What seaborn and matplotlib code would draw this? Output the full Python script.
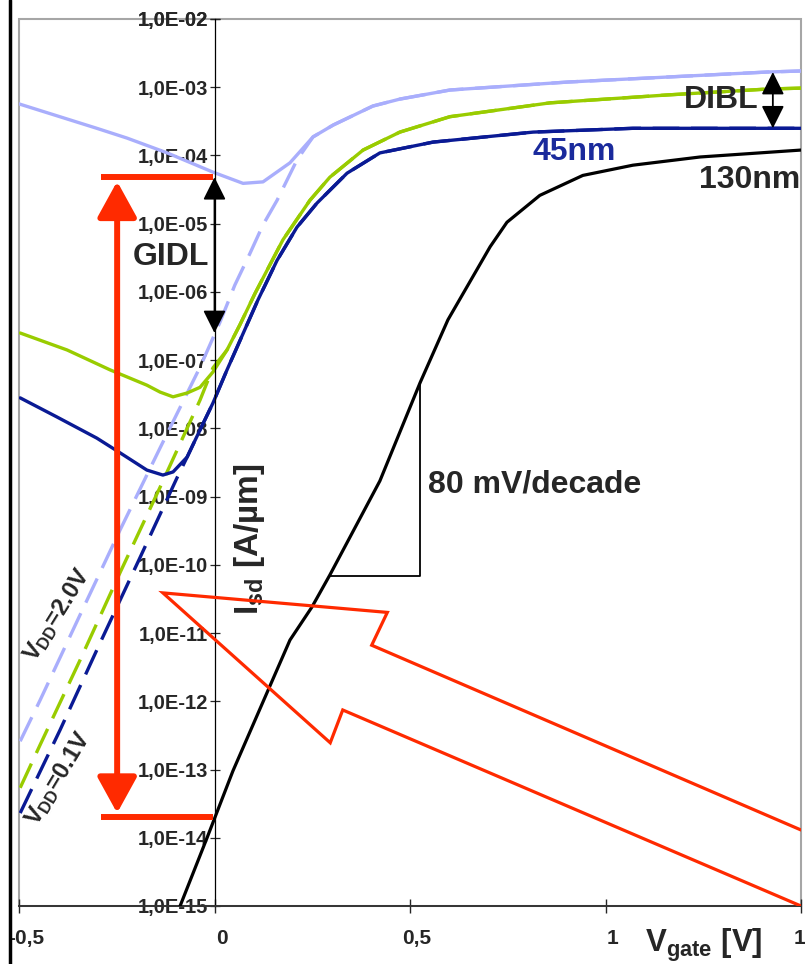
import numpy as np
import pandas as pd
import matplotlib
matplotlib.use("Agg")
import matplotlib.pyplot as plt
import matplotlib.transforms as mtransforms
from matplotlib.patches import Rectangle
from matplotlib.lines import Line2D
from matplotlib.ticker import FixedLocator, NullLocator
import seaborn as sns

# ==============================
# Data
# ==============================

# 130nm device
vg_130 = [-0.088, -0.019, 0.047, 0.124, 0.193, 0.249, 0.295, 0.423, 0.526, 0.597,
          0.705, 0.748, 0.832, 0.942, 1.070, 1.242, 1.500]
isd_130 = [1.0e-15, 1.0e-14, 9.5e-14, 9.8e-13, 7.9e-12, 2.4e-11, 7.1e-11, 1.7e-9,
           4.7e-8, 3.9e-7, 4.6e-6, 1.05e-5, 2.6e-5, 5.1e-5, 7.2e-5, 9.5e-5, 1.2e-4]

# 45nm, highest VDD (lavender), solid = measured with GIDL
vg_lav = [-0.500, -0.301, -0.224, -0.121, -0.004, 0.073, 0.124, 0.193, 0.252, 0.304,
          0.405, 0.474, 0.602, 0.902, 1.413, 1.500]
isd_lav = [5.7e-4, 2.5e-4, 1.8e-4, 1.09e-4, 5.7e-5, 3.9e-5, 4.1e-5, 7.8e-5, 1.87e-4,
           2.8e-4, 5.3e-4, 6.7e-4, 9.1e-4, 1.19e-3, 1.67e-3, 1.73e-3]
# dashed: extrapolated subthreshold part (joins the solid curve above)
vg_lav_d = [-0.497, -0.446, -0.344, -0.242, -0.139, -0.037, 0.014, 0.052, 0.091,
            0.124, 0.160, 0.211]
isd_lav_d = [2.6e-13, 1.04e-12, 1.84e-11, 3.2e-10, 5.2e-9, 7.9e-8, 3.6e-7, 1.26e-6,
             3.7e-6, 9.6e-6, 2.2e-5, 8.6e-5]

# 45nm, middle VDD (green)
vg_grn = [-0.497, -0.377, -0.267, -0.173, -0.139, -0.106, -0.070, -0.037, -0.004,
          0.032, 0.065, 0.104, 0.175, 0.244, 0.295, 0.380, 0.474, 0.602, 0.858,
          1.157, 1.413, 1.500]
isd_grn = [2.5e-7, 1.41e-7, 7.2e-8, 4.3e-8, 3.4e-8, 2.9e-8, 3.3e-8, 4.0e-8, 6.7e-8,
           1.41e-7, 3.3e-7, 9.6e-7, 5.8e-6, 2.2e-5, 4.8e-5, 1.2e-4, 2.2e-4, 3.7e-4,
           5.9e-4, 7.7e-4, 9.4e-4, 9.7e-4]
vg_grn_d = [-0.497, -0.446, -0.344, -0.242, -0.139, -0.037, -0.004]
isd_grn_d = [5.4e-14, 2.3e-13, 4.0e-12, 7.6e-11, 1.38e-9, 2.6e-8, 7.7e-8]

# 45nm, VDD = 0.1V (dark blue)
vg_blu = [-0.497, -0.403, -0.301, -0.242, -0.173, -0.132, -0.106, -0.070, -0.037,
          -0.004, 0.032, 0.111, 0.160, 0.211, 0.262, 0.339, 0.423, 0.559, 0.815,
          1.070, 1.500]
isd_blu = [2.8e-8, 1.47e-8, 7.2e-9, 4.4e-9, 2.45e-9, 2.07e-9, 2.3e-9, 3.8e-9, 9.5e-9,
           2.35e-8, 7.2e-8, 7.6e-7, 2.9e-6, 8.9e-6, 2.0e-5, 5.5e-5, 1.09e-4, 1.57e-4,
           2.2e-4, 2.5e-4, 2.5e-4]
vg_blu_d = [-0.497, -0.395, -0.293, -0.191, -0.096, -0.070]
isd_blu_d = [2.3e-14, 3.8e-13, 7.1e-12, 1.26e-10, 1.88e-9, 3.8e-9]

ytick_vals = [10.0 ** e for e in range(-15, -1)]
ytick_labels = ["1,0E-%02d" % -e for e in range(-15, -1)]
xtick_vals = [-0.5, 0, 0.5, 1, 1.5]
xtick_labels = ["-0,5", "0", "0,5", "1", "1,5"]

# annotation levels
gidl_top, gidl_bottom = 4.8e-5, 2.5e-7
red_top, red_bottom = 4.8e-5, 2.0e-14
dibl_x, dibl_top, dibl_bottom = 1.428, 1.67e-3, 2.5e-4
slope_x0, slope_x1 = 0.295, 0.526
slope_y0, slope_y1 = 6.9e-11, 4.6e-8

LAV = "#a9aefc"
GRN = "#99cc00"
NAVY = "#0a1a94"
RED = "#ff2a00"

# ==============================
# Style
# ==============================
sns.set_style("white")
plt.rcParams["font.family"] = ["Liberation Sans", "DejaVu Sans"]
plt.rcParams["font.weight"] = "bold"
plt.rcParams["mathtext.fontset"] = "custom"
plt.rcParams["mathtext.rm"] = "Liberation Sans"
plt.rcParams["mathtext.bf"] = "Liberation Sans:bold"
plt.rcParams["mathtext.it"] = "Liberation Sans:italic"

fig = plt.figure(figsize=(8.05, 9.64), dpi=100)
ax = fig.add_axes([19 / 805, 58 / 964, 782 / 805, 887 / 964])

# ==============================
# Curves
# ==============================
lw = 2.4
dash = (0, (8, 3.5))

def full_dashed(vd, idd, vs, iss):
    # dashed low part + the solid curve above the merge point
    v = list(vd) + [a for a in vs if a > vd[-1]]
    i = list(idd) + [b for a, b in zip(vs, iss) if a > vd[-1]]
    return v, i

for vs, iss, vd, idd, col in [(vg_lav, isd_lav, vg_lav_d, isd_lav_d, LAV),
                              (vg_grn, isd_grn, vg_grn_d, isd_grn_d, GRN),
                              (vg_blu, isd_blu, vg_blu_d, isd_blu_d, NAVY)]:
    sns.lineplot(x=vs, y=iss, ax=ax, color=col, lw=lw, estimator=None)
    v2, i2 = full_dashed(vd, idd, vs, iss)
    sns.lineplot(x=v2, y=i2, ax=ax, color=col, lw=lw, linestyle=dash, estimator=None)

sns.lineplot(x=vg_130, y=isd_130, ax=ax, color="black", lw=2.3, estimator=None, zorder=3)

# ==============================
# Axes
# ==============================
ax.set_yscale("log")
ax.set_xlim(-0.5, 1.5)
ax.set_ylim(1e-15, 1e-2)
ax.yaxis.set_major_locator(FixedLocator(ytick_vals + [1e-2]))
ax.set_yticklabels(ytick_labels + ["1,0E-02"])
ax.yaxis.set_minor_locator(NullLocator())
ax.set_xticks(xtick_vals)
ax.set_xticklabels(xtick_labels)
ax.set_xlabel("")
ax.set_ylabel("")

for s in ["top", "right"]:
    ax.spines[s].set_visible(False)
ax.spines["left"].set_position(("data", 0))
ax.spines["left"].set_color("black")
ax.spines["left"].set_linewidth(0.9)
ax.spines["bottom"].set_color("#333333")
ax.spines["bottom"].set_linewidth(1.4)
ax.add_patch(Rectangle((0, 0), 1, 1, transform=ax.transAxes, fill=False,
                       edgecolor="#a6a6a6", lw=1.5, zorder=0.5, clip_on=False))

ax.tick_params(axis="y", direction="inout", length=7, width=0.9, pad=1,
               labelsize=14.5, left=True)
ax.tick_params(axis="x", direction="inout", length=9.5, width=1.0, pad=12,
               labelsize=15, bottom=True)
for lab in ax.get_yticklabels() + ax.get_xticklabels():
    lab.set_fontweight("bold")
offset = mtransforms.ScaledTranslation(0.07, 0, fig.dpi_scale_trans)
for lab in ax.get_xticklabels():
    lab.set_transform(lab.get_transform() + offset)

# ==============================
# Annotations
# ==============================
# red GIDL range arrow with end bars
ax.plot([-0.29, -0.004], [red_top, red_top], color=RED, lw=4.3, solid_capstyle="butt", zorder=4)
ax.plot([-0.29, -0.004], [red_bottom, red_bottom], color=RED, lw=4.3, solid_capstyle="butt", zorder=4)
ax.annotate("", xy=(-0.249, red_top), xytext=(-0.249, red_bottom),
            arrowprops=dict(arrowstyle="<|-|>,head_length=1.0,head_width=0.55",
                            color=RED, lw=4.3, mutation_scale=22,
                            shrinkA=3, shrinkB=3), zorder=4)

# GIDL arrow
ax.annotate("", xy=(0, gidl_top), xytext=(0, gidl_bottom),
            arrowprops=dict(arrowstyle="<|-|>,head_length=1.0,head_width=0.5",
                            color="black", lw=1.3, mutation_scale=14,
                            shrinkA=0, shrinkB=0), zorder=5)
ax.text(0.146, 0.732, "GIDL", transform=ax.transAxes, fontsize=23,
        fontweight="bold", ha="left", va="center")

# DIBL arrow
ax.annotate("", xy=(dibl_x, dibl_top), xytext=(dibl_x, dibl_bottom),
            arrowprops=dict(arrowstyle="<|-|>,head_length=1.0,head_width=0.5",
                            color="black", lw=1.3, mutation_scale=14,
                            shrinkA=0, shrinkB=0), zorder=5)
ax.text(0.946, 0.909, "DIBL", transform=ax.transAxes, fontsize=23,
        fontweight="bold", ha="right", va="center")

ax.text(0.657, 0.850, "45nm", transform=ax.transAxes, fontsize=23,
        fontweight="bold", ha="left", va="center", color="#1a2a9c")
ax.text(0.999, 0.818, "130nm", transform=ax.transAxes, fontsize=23,
        fontweight="bold", ha="right", va="center")

# slope triangle
ax.plot([slope_x0, slope_x1, slope_x1], [slope_y0, slope_y0, slope_y1],
        color="black", lw=1.3, zorder=3)
ax.text(0.523, 0.475, "80 mV/decade", transform=ax.transAxes, fontsize=23,
        fontweight="bold", ha="left", va="center")

# VDD labels
ax.text(0.049, 0.328, r"$\mathbf{V_{DD}}$=2.0V", transform=ax.transAxes,
        fontsize=17, fontweight="bold", rotation=58, rotation_mode="anchor",
        ha="center", va="center")
ax.text(0.050, 0.144, r"$\mathbf{V_{DD}}$=0.1V", transform=ax.transAxes,
        fontsize=17, fontweight="bold", rotation=59, rotation_mode="anchor",
        ha="center", va="center")

# big hollow red arrow
arr_x = [1.0, 0.451, 0.471, 0.184, 0.398, 0.414, 1.0]
arr_y = [0.0857, 0.294, 0.331, 0.353, 0.184, 0.221, 0.0]
ax.plot(arr_x, arr_y, transform=ax.transAxes, color=RED, lw=2.3,
        solid_joinstyle="miter", zorder=4)

# axis labels
ax.text(0.295, 0.413, r"$\mathbf{I_{sd}}$ [A/µm]", transform=ax.transAxes,
        fontsize=24, fontweight="bold", rotation=90, ha="center", va="center")
ax.text(0.800, -0.052, r"$\mathbf{V_{gate}}$ [V]", transform=ax.transAxes,
        fontsize=22.5, fontweight="bold", ha="left", va="baseline", clip_on=False)

# black bar on the left edge of the figure
fig.add_artist(Line2D([0.0124, 0.0124], [0, 1], transform=fig.transFigure,
                      color="black", lw=2.5))

fig.savefig("out.png", dpi=100)
